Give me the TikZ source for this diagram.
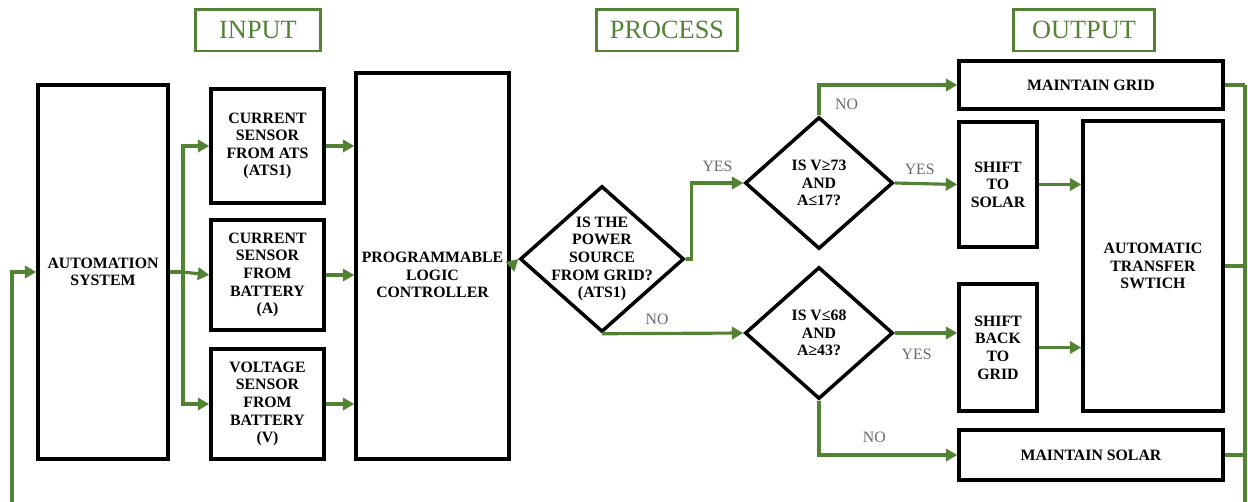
\documentclass[tikz,border=0pt]{standalone}
\usepackage{fontspec}
\setmainfont{Liberation Serif}
\usepackage[dvipsnames]{xcolor}
\usetikzlibrary{arrows.meta}
\usetikzlibrary{positioning}
\usetikzlibrary{shapes.geometric}

\definecolor{gruen}{RGB}{84,130,53}
\definecolor{grau}{RGB}{105,105,105}

\tikzset{
    kasten/.style={draw, line width=2pt, align=center, inner sep=1pt,
        font=\fontsize{9}{10}\selectfont\bfseries},
    titel/.style={draw=gruen, line width=1.7pt, text=gruen, minimum height=0.84cm,
        font=\fontsize{15}{15}\selectfont},
    frage/.style={diamond, draw, line width=2pt, inner sep=0pt},
    fluss/.style={draw=gruen, line width=1.8pt, -{Triangle[length=6.5pt,width=7pt]}},
    linie/.style={draw=gruen, line width=1.8pt},
    antwort/.style={text=grau, font=\fontsize{9}{9}\selectfont}
}

\begin{document}
\begin{tikzpicture}[x=0.02cm, y=-0.02cm]
    % Bildgroesse wie Vorlage
    \useasboundingbox (0,0) rectangle (1248,501);
    \clip (0,0) rectangle (1248,501);

    % Ueberschriften
    \node[titel, minimum width=2.52cm] (tin) at (258,30) {INPUT};
    \node[titel, minimum width=2.82cm] (tpro) at (667,30) {PROCESS};
    \node[titel, minimum width=2.82cm] (tout) at (1084,30) {OUTPUT};

    % Eingang
    \node[kasten, minimum width=2.6cm, minimum height=7.48cm] (auto) at (103,272) {AUTOMATION\\SYSTEM};
    \node[kasten, minimum width=2.26cm, minimum height=2.28cm] (cs1) at (267.5,146) {CURRENT\\SENSOR\\FROM ATS\\(ATS1)};
    \node[kasten, minimum width=2.26cm, minimum height=2.2cm] (cs2) at (267.5,275) {CURRENT\\SENSOR\\FROM\\BATTERY\\(A)};
    \node[kasten, minimum width=2.26cm, minimum height=2.2cm] (vs) at (267.5,404) {VOLTAGE\\SENSOR\\FROM\\BATTERY\\(V)};
    \node[kasten, minimum width=3.06cm, minimum height=7.72cm,
        label={[kasten, draw=none, yshift=-0.18cm]center:PROGRAMMABLE\\LOGIC\\CONTROLLER}] (plc) at (432.5,266) {};

    % Verarbeitung
    \node[frage, minimum width=3.28cm, minimum height=2.92cm,
        label={[kasten, draw=none]center:IS THE\\POWER\\SOURCE\\FROM GRID?\\(ATS1)}] (q1) at (602,259) {};
    \node[frage, minimum width=2.96cm, minimum height=2.64cm,
        label={[kasten, draw=none]center:IS V≥73\\AND\\A≤17?}] (q2) at (819,183) {};
    \node[frage, minimum width=2.96cm, minimum height=2.64cm,
        label={[kasten, draw=none]center:IS V≤68\\AND\\A≥43?}] (q3) at (819,333) {};

    % Ausgang
    \node[kasten, minimum width=5.28cm, minimum height=0.96cm] (mgrid) at (1091,85) {MAINTAIN GRID};
    \node[kasten, minimum width=1.56cm, minimum height=2.5cm] (ssolar) at (998,184.5) {SHIFT\\TO\\SOLAR};
    \node[kasten, minimum width=1.56cm, minimum height=2.54cm] (sgrid) at (998,347.5) {SHIFT\\BACK\\TO\\GRID};
    \node[kasten, minimum width=2.8cm, minimum height=5.8cm] (ats) at (1153,266) {AUTOMATIC\\TRANSFER\\SWTICH};
    \node[kasten, minimum width=5.28cm, minimum height=1cm] (msolar) at (1091,455) {MAINTAIN SOLAR};

    % Hilfspunkte
    \coordinate (split) at (183,272);
    \coordinate (bus) at (1245,85);
    \coordinate (unten) at (1245,520);
    \coordinate (links) at (12,520);

    % Verbindungen Eingang
    \draw[fluss] (auto.east) -- (split) |- (cs1.west);
    \draw[fluss] (split) -- (cs2.west);
    \draw[fluss] (split) |- (vs.west);
    \foreach \s in {cs1,cs2,vs}
        \draw[fluss] (\s.east) -- (\s.east -| plc.west);
    \draw[fluss] (plc.east) -- (q1.west);

    % Verbindungen Verarbeitung
    \draw[fluss] (q1.east) -- ++(6,0) |- (q2.west) node[antwort, pos=0.75, above=2pt] {YES};
    \draw[fluss] (q1.south) -- (q3.west) node[antwort, pos=0.39, above=1pt] {NO};
    \draw[fluss] (q2.north) |- (mgrid.west) node[antwort, pos=0.6, below=4pt] {NO};
    \draw[fluss] (q2.east) -- (ssolar.west) node[antwort, pos=0.4, above=1pt] {YES};
    \draw[fluss] (q3.east) -- (q3.east -| sgrid.west) node[antwort, pos=0.35, below=5pt] {YES};
    \draw[fluss] (q3.south) |- (msolar.west) node[antwort, pos=0.7, above=3pt] {NO};

    % Verbindungen Ausgang
    \draw[fluss] (ssolar.east) -- (ssolar.east -| ats.west);
    \draw[fluss] (sgrid.east) -- (sgrid.east -| ats.west);
    \draw[linie] (mgrid.east) -- (bus);
    \draw[linie] (ats.east) -- (ats.east -| bus);
    \draw[linie] (msolar.east) -- (msolar.east -| bus);

    % Rueckfuehrung
    \draw[fluss] (bus) -- (unten) -- (links) |- (auto.west);
\end{tikzpicture}
\end{document}
